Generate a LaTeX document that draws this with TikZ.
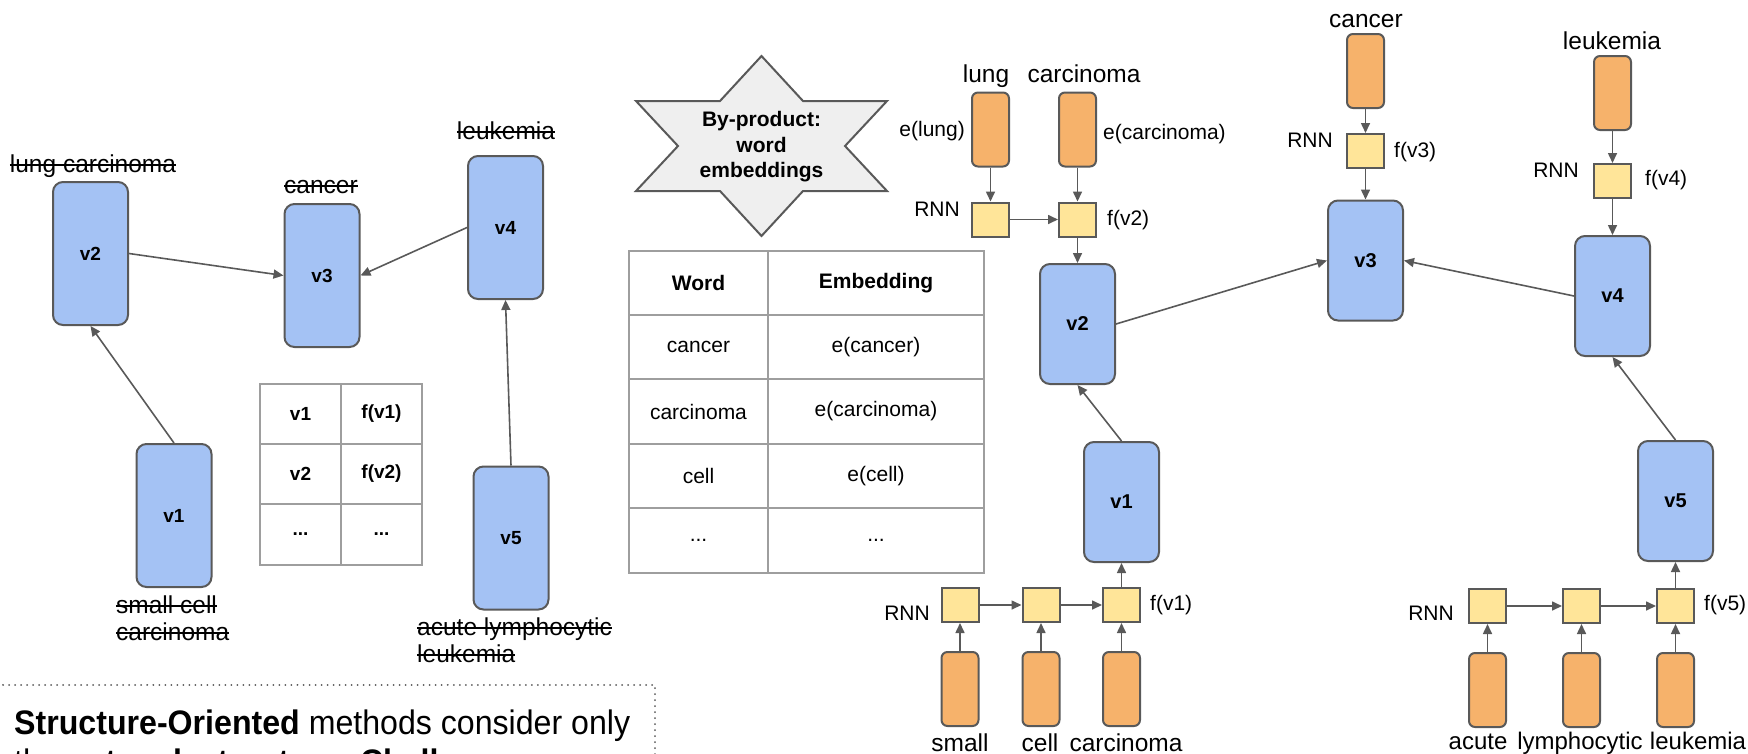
\documentclass[tikz,border=0pt]{standalone}
\usepackage{fontspec}
\setmainfont{Liberation Sans}
\usepackage{graphicx}
\usetikzlibrary{arrows.meta}
\newlength{\strkw}
\newcommand{\strk}[1]{\settowidth{\strkw}{#1}\rlap{\rule[0.25em]{\strkw}{1.8pt}}#1}
\definecolor{vblue}{HTML}{A4C2F4}
\definecolor{embc}{HTML}{F6B26B}
\definecolor{rnnc}{HTML}{FFE599}
\definecolor{strokec}{HTML}{595959}
\definecolor{starc}{HTML}{EFEFEF}
\definecolor{tblc}{HTML}{9E9E9E}
\tikzset{
  vnode/.style={draw=strokec, fill=vblue, line width=2pt, rounded corners=10pt, minimum width=75pt, inner sep=0pt, font=\fontsize{20}{24}\selectfont\bfseries},
  vleft/.style={vnode, minimum height=143pt, font=\fontsize{19}{23}\selectfont\bfseries},
  vright/.style={vnode, minimum height=120pt},
  embnode/.style={draw=strokec, fill=embc, line width=2pt, rounded corners=6pt, minimum width=37pt, minimum height=74pt, inner sep=0pt},
  rnnnode/.style={draw=strokec, fill=rnnc, line width=2pt, minimum width=37pt, minimum height=34pt, inner sep=0pt},
  arr/.style={draw=strokec, line width=1.6pt, -{Triangle[length=10pt,width=9pt]}},
  word/.style={inner sep=0pt, font=\fontsize{24.5}{27}\selectfont},
  wordsm/.style={inner sep=0pt, font=\fontsize{24}{27}\selectfont},
  smalltxt/.style={inner sep=0pt, font=\fontsize{21}{24}\selectfont},
  tblline/.style={draw=tblc, line width=2pt},
  tcellb/.style={inner sep=0pt, font=\fontsize{19}{23}\selectfont\bfseries},
  tcell/.style={inner sep=0pt, font=\fontsize{21}{24}\selectfont},
  tcellh/.style={inner sep=0pt, font=\fontsize{21}{24}\selectfont\bfseries},
  starshape/.style={draw=strokec, fill=starc, line width=2pt, line join=miter},
  notefont/.style={inner sep=0pt, font=\fontsize{34}{39}\selectfont},
  dotframe/.style={draw=strokec, line width=2pt, line cap=round, dash pattern={on 0.01pt off 6pt}}
}
\begin{document}
\begin{tikzpicture}[x=1pt,y=-1pt]
\useasboundingbox (0,0) rectangle (1748,753);

% ---------- left graph ----------
\node[vleft] (v2L) at (90.5,253.5) {v2};
\node[vleft] (v3L) at (322,275.5) {v3};
\node[vleft] (v4L) at (505.5,227.5) {v4};
\node[vleft] (v1L) at (174,515.5) {v1};
\node[vleft] (v5L) at (511,538) {v5};

\node[word, anchor=base] (lLungCarc) at (93,172) {\strk{lung carcinoma}};
\node[word, anchor=base] (lCancer) at (321,193) {\strk{cancer}};
\node[word, anchor=base] (lLeuk) at (506,139) {\strk{leukemia}};
\node[word, anchor=base west] (lSmall) at (116,613) {\strk{small cell}};
\node[word, anchor=base west] (lCarc) at (116,640) {\strk{carcinoma}};
\node[word, anchor=base west] (lAcute) at (417,635) {\strk{acute lymphocytic}};
\node[word, anchor=base west] (lLeukB) at (417,662) {\strk{leukemia}};

\draw[arr] (v1L.north) -- (v2L.south);
\draw[arr] (v2L.east) -- (v3L.west);
\draw[arr] (v4L.west) -- (v3L.east);
\draw[arr] (v5L.north) -- (v4L.south);

% small table
\draw[tblline] (260,384) rectangle (422,565);
\draw[tblline] (341,384) -- (341,565);
\draw[tblline] (260,444) -- (422,444);
\draw[tblline] (260,504) -- (422,504);
\node[tcellb] (ta1) at (300.5,414) {v1};
\node[tcellb] (tb1) at (381.5,414) {f(v1)};
\node[tcellb] (ta2) at (300.5,474) {v2};
\node[tcellb] (tb2) at (381.5,474) {f(v2)};
\node[tcellb] (ta3) at (300.5,534.5) {...};
\node[tcellb] (tb3) at (381.5,534.5) {...};

% ---------- star ----------
\draw[starshape] (761.5,56) -- (803,101) -- (887,101) -- (845,146) -- (887,191) -- (803,191) -- (761.5,236) -- (720,191) -- (636,191) -- (678,146) -- (636,101) -- (720,101) -- cycle;
\node[inner sep=0pt, align=center, font=\fontsize{21}{25.5}\selectfont\bfseries] (star) at (761.5,147) {By-product:\\word\\embeddings};

% ---------- embedding table ----------
\draw[tblline] (629,251) rectangle (984,573);
\draw[tblline] (768,251) -- (768,573);
\foreach \yy in {315,379,444,508} \draw[tblline] (629,\yy) -- (984,\yy);
\node[tcellh] (w0) at (698.5,283) {Word};
\node[tcellh] (e0) at (876,283) {Embedding};
\node[tcell] (w1) at (698.5,347) {cancer};
\node[tcell] (e1) at (876,347) {e(cancer)};
\node[tcell] (w2) at (698.5,411.5) {carcinoma};
\node[tcell] (e2) at (876,411.5) {e(carcinoma)};
\node[tcell] (w3) at (698.5,476) {cell};
\node[tcell] (e3) at (876,476) {e(cell)};
\node[tcell] (w4) at (698.5,540.5) {...};
\node[tcell] (e4) at (876,540.5) {...};

% ---------- right graph ----------
\node[vright] (v2R) at (1077.5,324) {v2};
\node[vright] (v3R) at (1365.5,260.5) {v3};
\node[vright] (v4R) at (1612.5,296) {v4};
\node[vright] (v1R) at (1121.5,502) {v1};
\node[vright] (v5R) at (1675.5,501) {v5};

\draw[arr] (v1R.north) -- (v2R.south);
\draw[arr] (v2R.east) -- (v3R.west);
\draw[arr] (v4R.west) -- (v3R.east);
\draw[arr] (v5R.north) -- (v4R.south);

% v2 chain (top)
\node[embnode] (eLung) at (990.5,129.5) {};
\node[embnode] (eCarcT) at (1077.5,129.5) {};
\node[rnnnode] (r1) at (990.5,219.5) {};
\node[rnnnode] (r2) at (1077.5,219.5) {};
\node[word, anchor=base] (tLung) at (986,82) {lung};
\node[word, anchor=base] (tCarc) at (1084,82) {carcinoma};
\node[smalltxt, anchor=east] (teLung) at (965,131) {e(lung)};
\node[smalltxt, anchor=west] (teCarc) at (1103,134) {e(carcinoma)};
\node[smalltxt, anchor=east] (tRnn1) at (960,209) {RNN};
\node[smalltxt, anchor=west] (tfv2) at (1107,220) {f(v2)};
\draw[arr] (eLung.south) -- (r1.north);
\draw[arr] (eCarcT.south) -- (r2.north);
\draw[arr] (r1.east) -- (r2.west);
\draw[arr] (r2.south) -- (v2R.north);

% v3 chain
\node[embnode] (eCancer) at (1365.5,71) {};
\node[rnnnode] (r3) at (1365.5,151) {};
\node[word, anchor=base] (tCancer) at (1366,27) {cancer};
\node[smalltxt, anchor=east] (tRnn3) at (1333,140) {RNN};
\node[smalltxt, anchor=west] (tfv3) at (1394,152) {f(v3)};
\draw[arr] (eCancer.south) -- (r3.north);
\draw[arr] (r3.south) -- (v3R.north);

% v4 chain
\node[embnode] (eLeuk) at (1612.5,93) {};
\node[rnnnode] (r4) at (1612.5,181) {};
\node[word, anchor=base] (tLeuk) at (1612,49) {leukemia};
\node[smalltxt, anchor=east] (tRnn4) at (1579,170) {RNN};
\node[smalltxt, anchor=west] (tfv4) at (1645,180) {f(v4)};
\draw[arr] (eLeuk.south) -- (r4.north);
\draw[arr] (r4.south) -- (v4R.north);

% v1 chain (bottom)
\node[rnnnode] (ra) at (960,605) {};
\node[rnnnode] (rb) at (1041,605) {};
\node[rnnnode] (rc) at (1121.5,605) {};
\node[embnode] (eSmall) at (960,689) {};
\node[embnode] (eCell) at (1041,689) {};
\node[embnode] (eCarcB) at (1121.5,689) {};
\node[word, anchor=base] (tSmall) at (960,751) {small};
\node[word, anchor=base] (tCell) at (1040,751) {cell};
\node[word, anchor=base] (tCarcB) at (1126,751) {carcinoma};
\node[smalltxt, anchor=east] (tRnnA) at (930,613) {RNN};
\node[smalltxt, anchor=west] (tfv1) at (1150,605) {f(v1)};
\draw[arr] (eSmall.north) -- (ra.south);
\draw[arr] (eCell.north) -- (rb.south);
\draw[arr] (eCarcB.north) -- (rc.south);
\draw[arr] (ra.east) -- (rb.west);
\draw[arr] (rb.east) -- (rc.west);
\draw[arr] (rc.north) -- (v1R.south);

% v5 chain (bottom)
\node[rnnnode] (rd) at (1487.5,606) {};
\node[rnnnode] (re) at (1581.5,606) {};
\node[rnnnode] (rf) at (1675.5,606) {};
\node[embnode] (eAcute) at (1487.5,690) {};
\node[embnode] (eLymph) at (1581.5,690) {};
\node[embnode] (eLeukB) at (1675.5,690) {};
\node[wordsm, anchor=base] (tAcute) at (1478,749) {acute};
\node[wordsm, anchor=base] (tLymph) at (1580,749) {lymphocytic};
\node[wordsm, anchor=base] (tLeukB) at (1698,749) {leukemia};
\node[smalltxt, anchor=east] (tRnnD) at (1454,613) {RNN};
\node[smalltxt, anchor=west] (tfv5) at (1704,605) {f(v5)};
\draw[arr] (eAcute.north) -- (rd.south);
\draw[arr] (eLymph.north) -- (re.south);
\draw[arr] (eLeukB.north) -- (rf.south);
\draw[arr] (rd.east) -- (re.west);
\draw[arr] (re.east) -- (rf.west);
\draw[arr] (rf.north) -- (v5R.south);

% ---------- note box ----------
\begin{scope}
\clip (0,0) rectangle (1748,753);
\draw[dotframe] (3,685) -- (655,685) -- (655,760);
\node[notefont, anchor=base west] (note1) at (14,734) {\scalebox{0.945}[1]{\textbf{Structure-Oriented} methods consider only}};
\node[notefont, anchor=base west] (note2) at (14,773) {\scalebox{0.945}[1]{the \textbf{network structure}. \textbf{Challenges}}};
\end{scope}
\end{tikzpicture}
\end{document}
